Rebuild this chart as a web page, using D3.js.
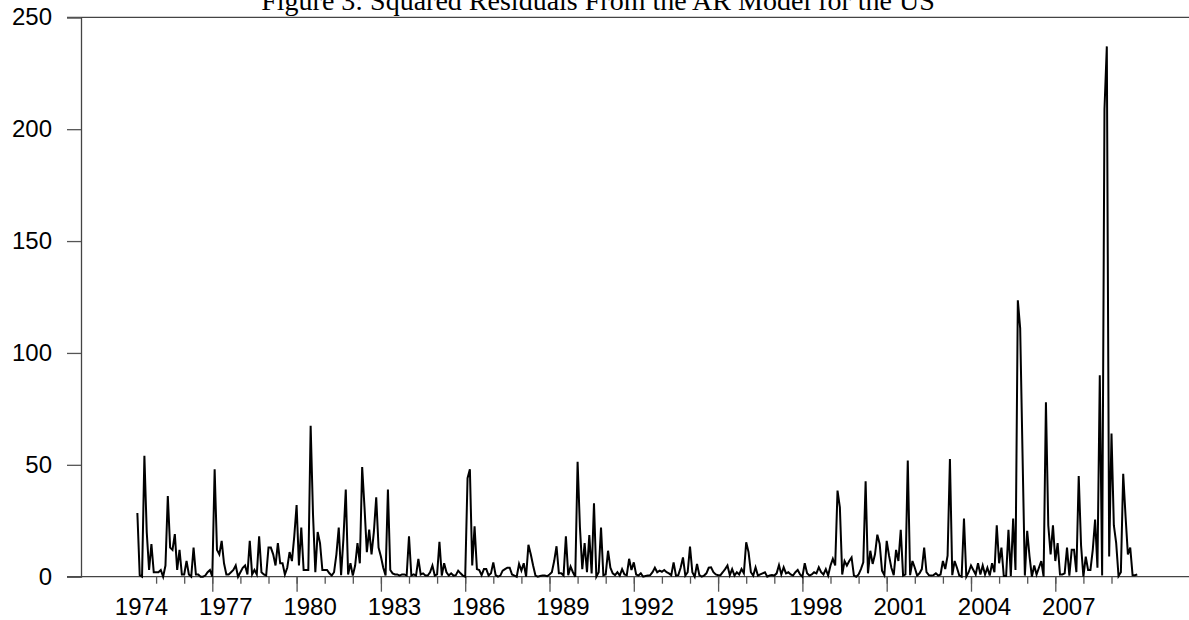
<!DOCTYPE html>
<html>
<head>
<meta charset="utf-8">
<script src="https://cdn.jsdelivr.net/npm/d3@7"></script>
<style>
    body { margin: 0; background: #fff; }
    svg { display: block; }
    .tick-label { font-family: "Liberation Sans", Arial, sans-serif; font-size: 24px; fill: #000; }
    .title { font-family: "Liberation Serif", "Times New Roman", serif; font-size: 28px; fill: #000; }
</style>
</head>
<body>
<div id="canvas"></div>
<script>
// Monthly squared residuals, first observation 1974M05
const startYear = 1974
const startMonth = 5
const residuals = [
    28.5, 0.7, 0, 54, 20, 3, 14.6, 2,                       // 1974
    2, 2, 3, 0, 5, 36, 13, 12, 19, 3, 12, 1,                // 1975
    1, 7, 1, 0, 13, 1, 1, 0, 0, 0.5, 2, 3,                  // 1976
    0, 48, 12, 10, 16, 6, 1, 1, 2, 3, 5, 0,                 // 1977
    2, 4, 5, 1, 16, 1, 3, 1, 18, 2, 1, 0.5,                 // 1978
    13, 13, 10, 5, 15, 6, 6, 1, 4, 11, 7, 18,               // 1979
    32, 5, 22, 3, 3, 3, 67.5, 28, 2, 20, 15, 3,             // 1980
    3, 3, 1.5, 0.5, 2, 10, 22, 0.7, 17, 39, 1, 6,           // 1981
    0.5, 5, 15, 6, 49, 31, 11, 21, 10, 20, 35.5, 13,        // 1982
    9, 4, 0.5, 39, 3, 1.5, 1, 1, 0.5, 1, 1, 0.5,            // 1983
    18, 0.5, 1, 0.5, 8, 1, 1.5, 0.5, 0.5, 2, 5, 0.5,        // 1984
    1, 15.6, 0.5, 6, 2, 0.5, 1.5, 0.5, 0.7, 2.7, 1.5, 0.5,  // 1985
    0, 44, 48, 5, 22.5, 3.4, 3, 0.7, 3.4, 3.4, 0.5, 1.5,    // 1986
    6.4, 0.7, 0, 0.5, 2.7, 3.4, 4, 4, 1, 0.5, 0, 5.7,       // 1987
    2.7, 6, 0, 14.3, 10, 5, 0.5, 0, 0.3, 0.5, 0.5, 0.2,     // 1988
    1, 2, 7, 13.6, 1.5, 1.5, 0.5, 18, 0.7, 4.5, 2, 0,       // 1989
    51.4, 22, 3.4, 15, 2, 18.6, 1.5, 32.8, 0, 2, 22, 0.7,   // 1990
    1, 11.6, 4, 1.5, 0.7, 2, 0.5, 3.4, 1, 0.7, 8, 3,        // 1991
    6.4, 1, 0.5, 1.5, 0, 0.3, 0.5, 0.7, 2, 4, 2, 2.7,       // 1992
    2.2, 3, 2, 1.5, 0.7, 6.4, 0.5, 0.7, 4, 8.6, 0.5, 2,     // 1993
    13.4, 2, 0, 5.7, 0.7, 0, 0.5, 1.5, 4, 4.2, 2, 1,        // 1994
    0.7, 0.7, 2, 3.4, 5, 0.7, 3.4, 0.5, 2, 1, 3.4, 1.5,     // 1995
    15.4, 11, 2, 0.5, 4.2, 0.5, 1, 1.5, 2, 0, 0.5, 0.7,     // 1996
    0.5, 1.5, 5.2, 1, 4.2, 1.5, 2, 1, 0.5, 2, 3, 1,         // 1997
    0, 6, 1.5, 0.5, 1, 2, 1.5, 4.2, 2, 1, 3.4, 0.5,         // 1998
    5, 8, 5, 38.5, 31, 1, 7, 5, 7, 8.6, 0.5, 0,             // 1999
    1, 3.4, 6.4, 42.6, 1.5, 11.6, 5.7, 10, 18.8, 14.6, 2.7, 0.7, // 2000
    16, 9.4, 4, 0.7, 12, 7, 21, 0.5, 1, 51.9, 0.7, 7,       // 2001
    4, 0.5, 1.5, 3.4, 13, 2, 0.7, 0.5, 0.7, 1.5, 0.5, 1,    // 2002
    7, 3.4, 9.4, 52.6, 0.7, 7, 4, 0.5, 0, 26, 0, 2,         // 2003
    5, 3, 1, 6, 1, 5, 1, 4, 0.5, 6, 2, 23,                  // 2004
    6, 13, 0.3, 0.3, 21, 0.3, 26, 3, 123.5, 111, 55, 0.5,   // 2005
    20.5, 9, 0, 5, 1, 4, 7, 0, 78, 23, 10, 23,              // 2006
    7, 15, 1, 1, 1.5, 13, 0.5, 12, 12, 2, 45, 14,           // 2007
    0, 9, 3, 3, 12, 25.5, 4, 90, 0.5, 209, 237, 9,          // 2008
    64, 23, 15, 0.3, 2, 46, 27, 10, 13, 0.7, 0.7, 1         // 2009
]

const yTicks = [0, 50, 100, 150, 200, 250]
const labelYears = [1974, 1977, 1980, 1983, 1986, 1989, 1992, 1995, 1998, 2001, 2004, 2007]
const minorYears = d3.range(1975, 2010)
const majorYears = [1977, 1980, 1983, 1986, 1989, 1992, 1995, 1998, 2001, 2004, 2007]
const title = "Figure 3: Squared Residuals From the AR Model for the US"

// Constants
const width = 1189
const height = 620
const axisX = 81
const yTop = 17.3
const yZero = 576.7

const series = residuals.map((v, i) => ({
    t: startYear + (startMonth - 1 + i) / 12,
    v: v
}))

// Set Scales
const x = d3.scaleLinear()
    .domain([1974, 2007])
    .range([128, 1055.3])
const y = d3.scaleLinear()
    .domain([0, 250])
    .range([yZero, yTop])

const svg = d3.select('#canvas')
    .append('svg').attr('width', width).attr('height', height)

// title, cut at the top like the original
svg.append('text')
    .attr('class', 'title')
    .attr('x', 598)
    .attr('y', 10)
    .attr('text-anchor', 'middle')
    .text(title)

// frame top and zero line run off to the right edge
svg.append('line')
    .attr('x1', axisX - 14).attr('x2', width)
    .attr('y1', y(250)).attr('y2', y(250))
    .attr('stroke', '#444').attr('stroke-width', 1.3)
svg.append('line')
    .attr('x1', axisX - 14).attr('x2', width)
    .attr('y1', y(0)).attr('y2', y(0))
    .attr('stroke', '#444').attr('stroke-width', 1.3)

// y axis
const yAxis = d3.axisLeft(y)
    .tickValues(yTicks)
    .tickSize(14)
    .tickPadding(15)
    .tickFormat(d3.format('d'))
svg.append('g')
    .attr('class', 'y-axis')
    .attr('transform', `translate(${axisX},0)`)
    .call(yAxis)
    .call(g => g.select('.domain').attr('stroke', '#444').attr('stroke-width', 1.3))
    .call(g => g.selectAll('.tick line').attr('stroke', '#555').attr('stroke-width', 1.3))
    .call(g => g.selectAll('.tick text').attr('class', 'tick-label').attr('fill', '#000'))

// x axis: yearly minor ticks, longer ticks every three years
const minorAxis = d3.axisBottom(x)
    .tickValues(minorYears)
    .tickSize(7)
    .tickFormat('')
svg.append('g')
    .attr('transform', `translate(0,${yZero})`)
    .call(minorAxis)
    .call(g => g.select('.domain').remove())
    .call(g => g.selectAll('.tick line').attr('stroke', '#555').attr('stroke-width', 1.3))

const majorAxis = d3.axisBottom(x)
    .tickValues(majorYears)
    .tickSize(15)
    .tickFormat('')
svg.append('g')
    .attr('transform', `translate(0,${yZero})`)
    .call(majorAxis)
    .call(g => g.select('.domain').remove())
    .call(g => g.selectAll('.tick line').attr('stroke', '#555').attr('stroke-width', 1.3))

// year labels sit a little right of their tick
const labelAxis = d3.axisBottom(x)
    .tickValues(labelYears)
    .tickSize(0)
    .tickPadding(0)
    .tickFormat(d3.format('d'))
svg.append('g')
    .attr('transform', `translate(13,${yZero + 38})`)
    .call(labelAxis)
    .call(g => g.select('.domain').remove())
    .call(g => g.selectAll('.tick text').attr('class', 'tick-label').attr('fill', '#000').attr('dy', null))

// the residual line
const Gen = d3.line()
    .x(d => x(d.t))
    .y(d => y(d.v))
svg.append('path')
    .datum(series)
    .attr('d', Gen)
    .attr('fill', 'none')
    .attr('stroke', '#000')
    .attr('stroke-width', 2)
    .attr('stroke-linejoin', 'miter')
</script>
</body>
</html>
